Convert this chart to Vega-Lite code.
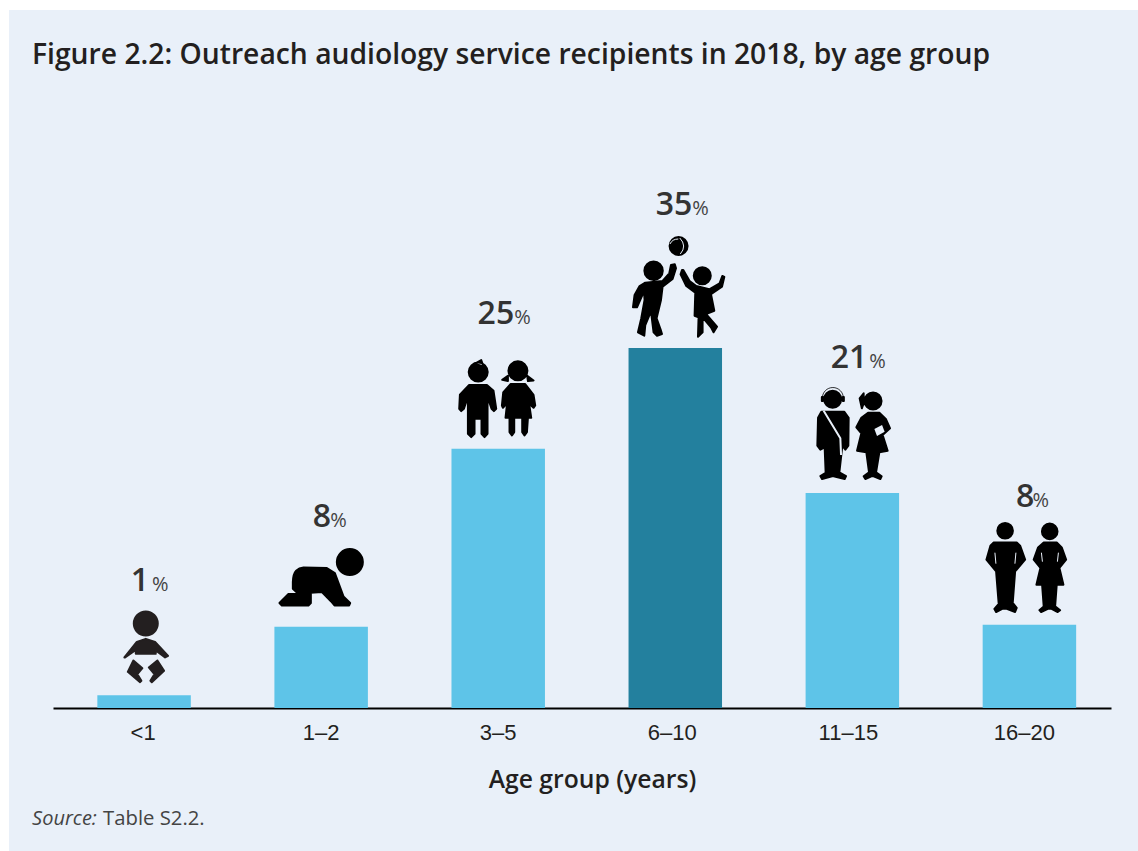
{"$schema":"https://vega.github.io/schema/vega-lite/v6.json","autosize":{"type":"none"},"padding":{"left":9,"top":10,"right":0,"bottom":0},"width":1129,"height":841,"background":"#ffffff","view":{"fill":"#E9F0F9","stroke":null},
"title":{"text":"Figure 2.2: Outreach audiology service recipients in 2018, by age group","anchor":"start","frame":"group","orient":"top","offset":0,"dx":23,"dy":82,"font":"Open Sans","fontSize":28.27,"fontWeight":600,"color":"#231F20","baseline":"alphabetic"},
"data":{"values":[{"age":"<1","share":1.25,"label":"1","pct":"%"},{"age":"1–2","share":7.9,"label":"8","pct":"%"},{"age":"3–5","share":25.2,"label":"25","pct":"%"},{"age":"6–10","share":35,"label":"35","pct":"%"},{"age":"11–15","share":20.9,"label":"21","pct":"%"},{"age":"16–20","share":8.1,"label":"8","pct":"%"}]},
"encoding":{"x":{"field":"age","type":"nominal","sort":null,"scale":{"range":[44,1102],"paddingInner":0.472,"paddingOuter":0.2236,"align":0.56},"axis":{"title":"Age group (years)","orient":"bottom","offset":-143,"labelAngle":0,"ticks":false,"domainColor":"#000000","domainWidth":2,"grid":false,"labelFont":"Liberation Sans","labelFontSize":22,"labelColor":"#231F20","labelPadding":14,"labelOffset":{"expr":"datum.value==='16–20'?-5:datum.value==='11–15'?-4:datum.value==='6–10'?-3:datum.value==='<1'?-1:0"},"titleFont":"Open Sans","titleFontSize":24.7,"titleFontWeight":600,"titleColor":"#231F20","titleX":583,"titleY":79,"titleBaseline":"alphabetic"}},"y":{"field":"share","type":"quantitative","scale":{"domain":[0,35],"range":[698,338],"nice":false},"axis":null}},
"layer":[
{"mark":{"type":"bar"},"encoding":{"color":{"condition":{"test":"datum.age==='6–10'","value":"#23809E"},"value":"#5EC4E8"}}},
{"transform":[{"filter":"datum.age==='<1'"}],"layer":[
{"mark":{"type":"point","filled":true,"size":4,"opacity":1,"color":"#231F20","stroke":"#231F20","strokeWidth":2,"strokeJoin":"round","shape":"M-10.3 -71.7a12 12 0 1 0 24 0a12 12 0 1 0 -24 0zM-19.7 -37.7L-7.3 -53.3L1.7 -56.3L11 -53.3L24 -39.3L21 -37.7L11 -45.3L11.7 -41.3L-8.3 -41.3L-8.3 -45.3L-19 -37.7zM-10.7 -34.7L-16.3 -23.3L-4 -13L-2.7 -14.3L-6.7 -21L-1.7 -27zM13.3 -34.7L20 -24.3L7.7 -13L6.3 -14.3L10.3 -21L4.7 -27.7z"}},
{"mark":{"type":"text","align":"right","baseline":"alphabetic","dx":5,"dy":-104,"font":"Open Sans","fontSize":32,"fontWeight":600,"color":"#333333"},"encoding":{"text":{"field":"label"}}},
{"mark":{"type":"text","align":"left","baseline":"alphabetic","dx":8,"dy":-104,"font":"Open Sans","fontSize":20,"color":"#444444"},"encoding":{"text":{"field":"pct"}}}]},
{"transform":[{"filter":"datum.age==='1–2'"}],"layer":[
{"mark":{"type":"point","filled":true,"size":4,"opacity":1,"color":"#000000","stroke":"#000000","strokeWidth":2,"strokeJoin":"round","shape":"M15.7 -64.7a13 13 0 1 0 26 0a13 13 0 1 0 -26 0zM-28.3 -44.7Q-28 -53 -25 -56Q-22 -59 -17.7 -59.3L5.7 -58.7L13.7 -53.7L22.3 -30.3L29 -23.7L28 -21.3L13.3 -21.3L10 -25.3L0.7 -34.7L-10.3 -34L-10.3 -23.7L-12.7 -21.3L-39.3 -21.3L-41.7 -23.7L-32.7 -32.7L-22.7 -32.7L-28.3 -38z"}},
{"mark":{"type":"text","align":"right","baseline":"alphabetic","dx":10,"dy":-100,"font":"Open Sans","fontSize":32,"fontWeight":600,"color":"#333333"},"encoding":{"text":{"field":"label"}}},
{"mark":{"type":"text","align":"left","baseline":"alphabetic","dx":9,"dy":-100,"font":"Open Sans","fontSize":20,"color":"#444444"},"encoding":{"text":{"field":"pct"}}}]},
{"transform":[{"filter":"datum.age==='3–5'"}],"layer":[
{"mark":{"type":"point","filled":true,"size":4,"opacity":1,"color":"#000000","stroke":"#000000","strokeWidth":2,"strokeJoin":"round","shape":"M-29.5 -76.7a9.5 9.5 0 1 0 19 0a9.5 9.5 0 1 0 -19 0zM-23.7 -85L-17 -88.7L-14.7 -82.3zM-29.3 -63.7L-11.3 -63.7L-4.7 -58L-2 -40L-4.3 -37.7L-6.7 -40L-10.7 -52L-10.7 -15L-13.7 -11.7L-16.7 -15L-16.7 -30L-23.7 -30L-23.7 -15L-27 -11.7L-30.3 -15L-30.3 -52L-34.3 -40L-37 -37.7L-39 -40L-38.3 -54zM10.2 -78a9.5 9.5 0 1 0 19 0a9.5 9.5 0 1 0 -19 0zM4 -69L9.7 -73L9.7 -67.7zM29 -73L35.3 -68.3L29.7 -67.7zM12.3 -64.7L27 -64.7L35.3 -54L37 -43.3L35.3 -41L33 -43.3L29.3 -56L33 -31L29.7 -31L28.7 -16.7L26.3 -13.3L24 -16.7L24 -31L16 -31L16 -16.7L13.7 -13.3L11.3 -16.7L11.3 -31L7.3 -31L10 -56L6.7 -43.3L4.7 -41L3.7 -43.3L5 -56.3z"}},
{"mark":{"type":"text","align":"right","baseline":"alphabetic","dx":16,"dy":-125,"font":"Open Sans","fontSize":32,"fontWeight":600,"color":"#333333"},"encoding":{"text":{"field":"label"}}},
{"mark":{"type":"text","align":"left","baseline":"alphabetic","dx":16,"dy":-125,"font":"Open Sans","fontSize":20,"color":"#444444"},"encoding":{"text":{"field":"pct"}}}]},
{"transform":[{"filter":"datum.age==='6–10'"}],"layer":[
{"mark":{"type":"point","filled":true,"size":4,"opacity":1,"color":"#000000","stroke":"#000000","strokeWidth":2,"strokeJoin":"round","shape":"M-5.7 -102a9 9 0 1 0 18 0a9 9 0 1 0 -18 0zM-30.9 -77.3a9.2 9.2 0 1 0 18.4 0a9.2 9.2 0 1 0 -18.4 0zM-0.5 -83.7L0.7 -79.7L-2.7 -69L-12.7 -61.3L-14.3 -48L-18.7 -29.7L-14.3 -17.3L-13.3 -14L-18.3 -12.3L-21.7 -15.7L-24.3 -36.7L-30 -23L-31 -12.3L-37.3 -15.7L-34 -29.7L-30.7 -48L-31.3 -56.7L-38.3 -40.7L-42.3 -40.7L-40.7 -53L-35.7 -62L-30 -65.3L-12.7 -67L-6 -74.7L-4.3 -83zM18.5 -72.3a8.5 8.5 0 1 0 17 0a8.5 8.5 0 1 0 -17 0zM6.7 -78L8 -78L14.3 -67L21 -62L34 -58.7L44.3 -64.7L47 -72L49 -71L46.7 -61.3L35.7 -53.7L39 -37.3L30.7 -34L41.7 -21.3L38.3 -15.7L35.7 -20.7L27.3 -30.7L27.3 -15.7L22.7 -11.3L23.3 -30.7L19.3 -32.3L20 -55.3L11 -62L5.3 -73.7z"}},
{"mark":{"type":"point","filled":false,"size":4,"opacity":1,"stroke":"#E9F0F9","strokeWidth":1,"shape":"M-5.3 -104Q-3 -109 3 -109M4.5 -110Q12 -102 5 -94"}},
{"mark":{"type":"text","align":"right","baseline":"alphabetic","dx":17,"dy":-133,"font":"Open Sans","fontSize":32,"fontWeight":600,"color":"#333333"},"encoding":{"text":{"field":"label"}}},
{"mark":{"type":"text","align":"left","baseline":"alphabetic","dx":17,"dy":-133,"font":"Open Sans","fontSize":20,"color":"#444444"},"encoding":{"text":{"field":"pct"}}}]},
{"transform":[{"filter":"datum.age==='11–15'"}],"layer":[
{"mark":{"type":"point","filled":true,"size":4,"opacity":1,"color":"#000000","stroke":"#000000","strokeWidth":2,"strokeJoin":"round","shape":"M-28.2 -93.7a8.5 8.5 0 1 0 17 0a8.5 8.5 0 1 0 -17 0zM-31 -81.3L-8 -81.3L-3.7 -75.3L-4 -47.3L-7 -43.3L-10 -47.3L-13 -20.7L-6.3 -17L-7.7 -14L-18.7 -16.7L-20.3 -16.7L-30.3 -14L-32 -17L-26.7 -20.3L-27.7 -45.7L-32 -43.3L-35 -47.3L-34.3 -75.3zM-30.5 -96L-29.5 -96L-29.5 -92L-30.5 -92zM-9.5 -96L-8.5 -96L-8.5 -92L-9.5 -92zM12.2 -92a8.5 8.5 0 1 0 17 0a8.5 8.5 0 1 0 -17 0zM11.3 -99.7L7.3 -94.7L9.5 -84.7L11.3 -89.7zM15.7 -80.3L27 -80.3L33.7 -73.7L37.7 -64.7L30.3 -58L35.3 -42.3L27 -40.7L23.7 -20.7L29.3 -16.7L28 -14L21.3 -16.7L19 -16.7L13 -14L11.3 -16.7L16.7 -20.7L14 -40.7L4.7 -42.3L9 -59.7L4 -65.7L9 -75.3z"}},
{"mark":{"type":"point","filled":false,"size":4,"opacity":1,"stroke":"#000000","strokeWidth":0.8,"shape":"M-30 -95A10.5 10.5 0 0 1 -9 -95"}},
{"mark":{"type":"point","filled":false,"size":4,"opacity":1,"stroke":"#E9F0F9","strokeWidth":2,"shape":"M-28.7 -82.3L-12 -54.7L-11.3 -38"}},
{"mark":{"type":"point","filled":true,"size":4,"opacity":1,"color":"#E9F0F9","shape":"M22 -64L29.7 -68L32.3 -61.3L24.7 -57z"}},
{"mark":{"type":"text","align":"right","baseline":"alphabetic","dx":15,"dy":-125,"font":"Open Sans","fontSize":32,"fontWeight":600,"color":"#333333"},"encoding":{"text":{"field":"label"}}},
{"mark":{"type":"text","align":"left","baseline":"alphabetic","dx":17,"dy":-125,"font":"Open Sans","fontSize":20,"color":"#444444"},"encoding":{"text":{"field":"pct"}}}]},
{"transform":[{"filter":"datum.age==='16–20'"}],"layer":[
{"mark":{"type":"point","filled":true,"size":4,"opacity":1,"color":"#000000","stroke":"#000000","strokeWidth":2,"strokeJoin":"round","shape":"M-32.1 -94a7.8 7.8 0 1 0 15.6 0a7.8 7.8 0 1 0 -15.6 0zM-35.7 -82.3L-12.7 -82.3L-9.3 -79L-4.3 -65L-14.3 -53.3L-16.7 -21.7L-12.7 -16.7L-14.3 -12.7L-23.3 -16L-26.7 -16L-33.3 -12.7L-35 -15.7L-30.7 -20.7L-33.3 -53.3L-43 -65L-39 -79zM12.5 -93.3a7.8 7.8 0 1 0 15.6 0a7.8 7.8 0 1 0 -15.6 0zM14.3 -82.3L27.3 -82.3L32.3 -77.3L36.7 -65L30 -56.7L34 -40L27.3 -40L25.7 -18.3L30.7 -14.5L28.3 -12.7L21.7 -16L19 -16L11.7 -12.7L10 -14.5L14.3 -18.3L12.7 -40L7 -40L11 -56.7L4.3 -65L8.7 -77.3z"}},
{"mark":{"type":"point","filled":false,"size":4,"opacity":1,"stroke":"#E9F0F9","strokeWidth":1,"shape":"M-34.5 -72L-33.5 -61M-13.5 -72L-14.5 -61M12 -72L13 -63M29 -72L28 -63"}},
{"mark":{"type":"text","align":"right","baseline":"alphabetic","dx":5,"dy":-118,"font":"Open Sans","fontSize":32,"fontWeight":600,"color":"#333333"},"encoding":{"text":{"field":"label"}}},
{"mark":{"type":"text","align":"left","baseline":"alphabetic","dx":3,"dy":-118,"font":"Open Sans","fontSize":20,"color":"#444444"},"encoding":{"text":{"field":"pct"}}}]},
{"data":{"values":[{"age":"<1","level":-11.4,"note":"Source:"}]},"mark":{"type":"text","align":"left","baseline":"alphabetic","dx":-112,"font":"Open Sans","fontSize":20,"fontStyle":"italic","color":"#444444"},"encoding":{"y":{"field":"level","type":"quantitative"},"text":{"field":"note"}}},
{"data":{"values":[{"age":"<1","level":-11.4,"note":"Table S2.2."}]},"mark":{"type":"text","align":"left","baseline":"alphabetic","dx":-41,"font":"Open Sans","fontSize":20.3,"color":"#444444"},"encoding":{"y":{"field":"level","type":"quantitative"},"text":{"field":"note"}}}
]}
